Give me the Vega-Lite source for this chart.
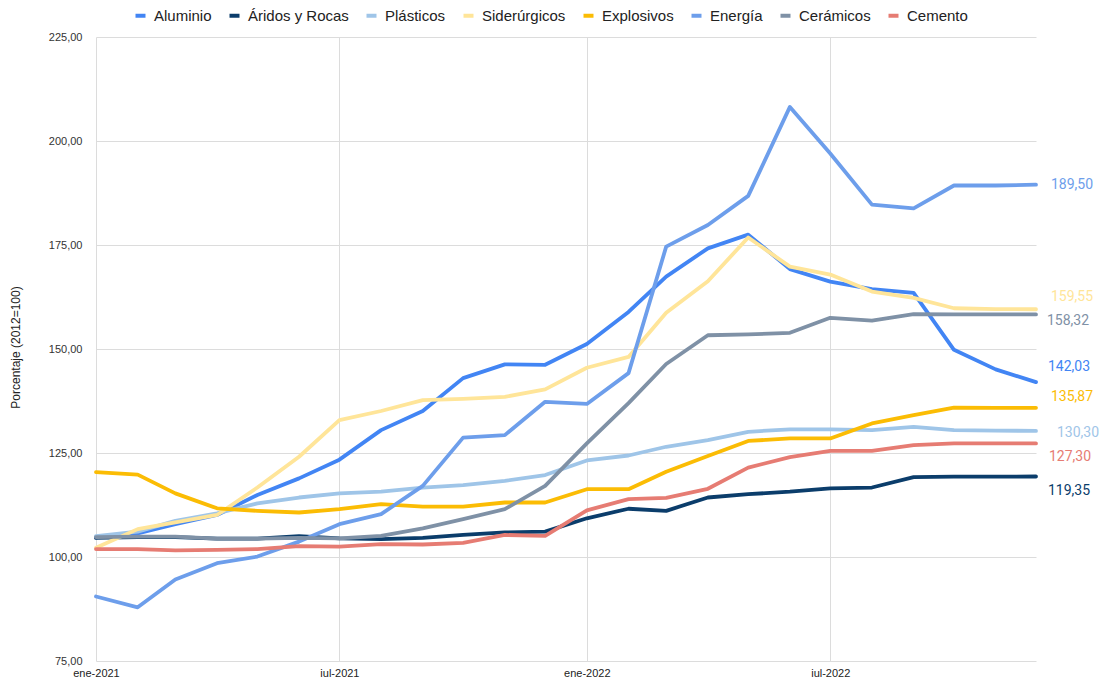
{
  "$schema": "https://vega.github.io/schema/vega-lite/v6.json",
  "width": 940,
  "height": 624,
  "autosize": {"type": "none"},
  "padding": {"left": 96, "top": 37, "right": 69, "bottom": 16},
  "background": "#ffffff",
  "config": {
    "view": {"stroke": null},
    "locale": {"number": {"decimal": ",", "thousands": ".", "grouping": [3], "currency": ["", " €"]}},
    "axis": {"domain": false, "ticks": false, "gridColor": "#dcdcdc", "gridWidth": 1, "labelFont": "Liberation Sans", "labelFontSize": 11, "labelColor": "#333333"},
    "text": {"font": "Roboto", "fontSize": 14, "fontWeight": "normal", "align": "left", "baseline": "middle"}
  },
  "data": {
    "format": {"parse": {"d": "utc:'%Y-%m-%d'"}},
    "values": [
      {"s":"Aluminio","d":"2021-01-01","v":104.7},{"s":"Aluminio","d":"2021-02-01","v":105.7},{"s":"Aluminio","d":"2021-03-01","v":107.9},{"s":"Aluminio","d":"2021-04-01","v":110.1},{"s":"Aluminio","d":"2021-05-01","v":114.9},{"s":"Aluminio","d":"2021-06-01","v":118.9},{"s":"Aluminio","d":"2021-07-01","v":123.4},{"s":"Aluminio","d":"2021-08-01","v":130.5},{"s":"Aluminio","d":"2021-09-01","v":135.1},{"s":"Aluminio","d":"2021-10-01","v":143.0},{"s":"Aluminio","d":"2021-11-01","v":146.3},{"s":"Aluminio","d":"2021-12-01","v":146.2},{"s":"Aluminio","d":"2022-01-01","v":151.2},{"s":"Aluminio","d":"2022-02-01","v":158.9},{"s":"Aluminio","d":"2022-03-01","v":167.4},{"s":"Aluminio","d":"2022-04-01","v":174.2},{"s":"Aluminio","d":"2022-05-01","v":177.5},{"s":"Aluminio","d":"2022-06-01","v":169.2},{"s":"Aluminio","d":"2022-07-01","v":166.2},{"s":"Aluminio","d":"2022-08-01","v":164.4},{"s":"Aluminio","d":"2022-09-01","v":163.5},{"s":"Aluminio","d":"2022-10-01","v":149.8},{"s":"Aluminio","d":"2022-11-01","v":145.1},{"s":"Aluminio","d":"2022-12-01","v":142.03},
      {"s":"Áridos y Rocas","d":"2021-01-01","v":104.6},{"s":"Áridos y Rocas","d":"2021-02-01","v":104.8},{"s":"Áridos y Rocas","d":"2021-03-01","v":104.8},{"s":"Áridos y Rocas","d":"2021-04-01","v":104.4},{"s":"Áridos y Rocas","d":"2021-05-01","v":104.4},{"s":"Áridos y Rocas","d":"2021-06-01","v":105.0},{"s":"Áridos y Rocas","d":"2021-07-01","v":104.5},{"s":"Áridos y Rocas","d":"2021-08-01","v":104.3},{"s":"Áridos y Rocas","d":"2021-09-01","v":104.6},{"s":"Áridos y Rocas","d":"2021-10-01","v":105.3},{"s":"Áridos y Rocas","d":"2021-11-01","v":105.9},{"s":"Áridos y Rocas","d":"2021-12-01","v":106.1},{"s":"Áridos y Rocas","d":"2022-01-01","v":109.3},{"s":"Áridos y Rocas","d":"2022-02-01","v":111.6},{"s":"Áridos y Rocas","d":"2022-03-01","v":111.1},{"s":"Áridos y Rocas","d":"2022-04-01","v":114.3},{"s":"Áridos y Rocas","d":"2022-05-01","v":115.1},{"s":"Áridos y Rocas","d":"2022-06-01","v":115.7},{"s":"Áridos y Rocas","d":"2022-07-01","v":116.5},{"s":"Áridos y Rocas","d":"2022-08-01","v":116.7},{"s":"Áridos y Rocas","d":"2022-09-01","v":119.2},{"s":"Áridos y Rocas","d":"2022-10-01","v":119.3},{"s":"Áridos y Rocas","d":"2022-11-01","v":119.3},{"s":"Áridos y Rocas","d":"2022-12-01","v":119.35},
      {"s":"Plásticos","d":"2021-01-01","v":105.0},{"s":"Plásticos","d":"2021-02-01","v":106.1},{"s":"Plásticos","d":"2021-03-01","v":108.7},{"s":"Plásticos","d":"2021-04-01","v":110.5},{"s":"Plásticos","d":"2021-05-01","v":112.9},{"s":"Plásticos","d":"2021-06-01","v":114.3},{"s":"Plásticos","d":"2021-07-01","v":115.3},{"s":"Plásticos","d":"2021-08-01","v":115.7},{"s":"Plásticos","d":"2021-09-01","v":116.7},{"s":"Plásticos","d":"2021-10-01","v":117.3},{"s":"Plásticos","d":"2021-11-01","v":118.3},{"s":"Plásticos","d":"2021-12-01","v":119.7},{"s":"Plásticos","d":"2022-01-01","v":123.2},{"s":"Plásticos","d":"2022-02-01","v":124.4},{"s":"Plásticos","d":"2022-03-01","v":126.5},{"s":"Plásticos","d":"2022-04-01","v":128.1},{"s":"Plásticos","d":"2022-05-01","v":130.1},{"s":"Plásticos","d":"2022-06-01","v":130.7},{"s":"Plásticos","d":"2022-07-01","v":130.7},{"s":"Plásticos","d":"2022-08-01","v":130.5},{"s":"Plásticos","d":"2022-09-01","v":131.3},{"s":"Plásticos","d":"2022-10-01","v":130.5},{"s":"Plásticos","d":"2022-11-01","v":130.4},{"s":"Plásticos","d":"2022-12-01","v":130.3},
      {"s":"Siderúrgicos","d":"2021-01-01","v":102.2},{"s":"Siderúrgicos","d":"2021-02-01","v":106.7},{"s":"Siderúrgicos","d":"2021-03-01","v":108.3},{"s":"Siderúrgicos","d":"2021-04-01","v":110.1},{"s":"Siderúrgicos","d":"2021-05-01","v":116.7},{"s":"Siderúrgicos","d":"2021-06-01","v":124.1},{"s":"Siderúrgicos","d":"2021-07-01","v":132.9},{"s":"Siderúrgicos","d":"2021-08-01","v":135.1},{"s":"Siderúrgicos","d":"2021-09-01","v":137.7},{"s":"Siderúrgicos","d":"2021-10-01","v":138.0},{"s":"Siderúrgicos","d":"2021-11-01","v":138.5},{"s":"Siderúrgicos","d":"2021-12-01","v":140.3},{"s":"Siderúrgicos","d":"2022-01-01","v":145.5},{"s":"Siderúrgicos","d":"2022-02-01","v":148.1},{"s":"Siderúrgicos","d":"2022-03-01","v":158.7},{"s":"Siderúrgicos","d":"2022-04-01","v":166.3},{"s":"Siderúrgicos","d":"2022-05-01","v":176.8},{"s":"Siderúrgicos","d":"2022-06-01","v":169.8},{"s":"Siderúrgicos","d":"2022-07-01","v":167.9},{"s":"Siderúrgicos","d":"2022-08-01","v":163.8},{"s":"Siderúrgicos","d":"2022-09-01","v":162.3},{"s":"Siderúrgicos","d":"2022-10-01","v":159.8},{"s":"Siderúrgicos","d":"2022-11-01","v":159.6},{"s":"Siderúrgicos","d":"2022-12-01","v":159.55},
      {"s":"Explosivos","d":"2021-01-01","v":120.4},{"s":"Explosivos","d":"2021-02-01","v":119.8},{"s":"Explosivos","d":"2021-03-01","v":115.3},{"s":"Explosivos","d":"2021-04-01","v":111.7},{"s":"Explosivos","d":"2021-05-01","v":111.1},{"s":"Explosivos","d":"2021-06-01","v":110.7},{"s":"Explosivos","d":"2021-07-01","v":111.5},{"s":"Explosivos","d":"2021-08-01","v":112.7},{"s":"Explosivos","d":"2021-09-01","v":112.1},{"s":"Explosivos","d":"2021-10-01","v":112.1},{"s":"Explosivos","d":"2021-11-01","v":113.1},{"s":"Explosivos","d":"2021-12-01","v":113.1},{"s":"Explosivos","d":"2022-01-01","v":116.3},{"s":"Explosivos","d":"2022-02-01","v":116.3},{"s":"Explosivos","d":"2022-03-01","v":120.5},{"s":"Explosivos","d":"2022-04-01","v":124.3},{"s":"Explosivos","d":"2022-05-01","v":127.9},{"s":"Explosivos","d":"2022-06-01","v":128.5},{"s":"Explosivos","d":"2022-07-01","v":128.5},{"s":"Explosivos","d":"2022-08-01","v":132.1},{"s":"Explosivos","d":"2022-09-01","v":134.1},{"s":"Explosivos","d":"2022-10-01","v":135.9},{"s":"Explosivos","d":"2022-11-01","v":135.87},{"s":"Explosivos","d":"2022-12-01","v":135.87},
      {"s":"Energía","d":"2021-01-01","v":90.5},{"s":"Energía","d":"2021-02-01","v":87.9},{"s":"Energía","d":"2021-03-01","v":94.6},{"s":"Energía","d":"2021-04-01","v":98.5},{"s":"Energía","d":"2021-05-01","v":100.1},{"s":"Energía","d":"2021-06-01","v":103.7},{"s":"Energía","d":"2021-07-01","v":107.9},{"s":"Energía","d":"2021-08-01","v":110.3},{"s":"Energía","d":"2021-09-01","v":117.1},{"s":"Energía","d":"2021-10-01","v":128.7},{"s":"Energía","d":"2021-11-01","v":129.3},{"s":"Energía","d":"2021-12-01","v":137.3},{"s":"Energía","d":"2022-01-01","v":136.8},{"s":"Energía","d":"2022-02-01","v":144.2},{"s":"Energía","d":"2022-03-01","v":174.6},{"s":"Energía","d":"2022-04-01","v":179.8},{"s":"Energía","d":"2022-05-01","v":186.8},{"s":"Energía","d":"2022-06-01","v":208.2},{"s":"Energía","d":"2022-07-01","v":197.0},{"s":"Energía","d":"2022-08-01","v":184.7},{"s":"Energía","d":"2022-09-01","v":183.8},{"s":"Energía","d":"2022-10-01","v":189.3},{"s":"Energía","d":"2022-11-01","v":189.3},{"s":"Energía","d":"2022-12-01","v":189.5},
      {"s":"Cerámicos","d":"2021-01-01","v":104.8},{"s":"Cerámicos","d":"2021-02-01","v":104.9},{"s":"Cerámicos","d":"2021-03-01","v":104.9},{"s":"Cerámicos","d":"2021-04-01","v":104.4},{"s":"Cerámicos","d":"2021-05-01","v":104.4},{"s":"Cerámicos","d":"2021-06-01","v":104.6},{"s":"Cerámicos","d":"2021-07-01","v":104.5},{"s":"Cerámicos","d":"2021-08-01","v":105.1},{"s":"Cerámicos","d":"2021-09-01","v":106.9},{"s":"Cerámicos","d":"2021-10-01","v":109.1},{"s":"Cerámicos","d":"2021-11-01","v":111.5},{"s":"Cerámicos","d":"2021-12-01","v":117.1},{"s":"Cerámicos","d":"2022-01-01","v":127.3},{"s":"Cerámicos","d":"2022-02-01","v":137.0},{"s":"Cerámicos","d":"2022-03-01","v":146.4},{"s":"Cerámicos","d":"2022-04-01","v":153.3},{"s":"Cerámicos","d":"2022-05-01","v":153.5},{"s":"Cerámicos","d":"2022-06-01","v":153.9},{"s":"Cerámicos","d":"2022-07-01","v":157.5},{"s":"Cerámicos","d":"2022-08-01","v":156.8},{"s":"Cerámicos","d":"2022-09-01","v":158.4},{"s":"Cerámicos","d":"2022-10-01","v":158.3},{"s":"Cerámicos","d":"2022-11-01","v":158.32},{"s":"Cerámicos","d":"2022-12-01","v":158.32},
      {"s":"Cemento","d":"2021-01-01","v":101.9},{"s":"Cemento","d":"2021-02-01","v":101.9},{"s":"Cemento","d":"2021-03-01","v":101.6},{"s":"Cemento","d":"2021-04-01","v":101.7},{"s":"Cemento","d":"2021-05-01","v":101.9},{"s":"Cemento","d":"2021-06-01","v":102.6},{"s":"Cemento","d":"2021-07-01","v":102.5},{"s":"Cemento","d":"2021-08-01","v":103.1},{"s":"Cemento","d":"2021-09-01","v":103.0},{"s":"Cemento","d":"2021-10-01","v":103.4},{"s":"Cemento","d":"2021-11-01","v":105.3},{"s":"Cemento","d":"2021-12-01","v":105.1},{"s":"Cemento","d":"2022-01-01","v":111.2},{"s":"Cemento","d":"2022-02-01","v":113.9},{"s":"Cemento","d":"2022-03-01","v":114.2},{"s":"Cemento","d":"2022-04-01","v":116.4},{"s":"Cemento","d":"2022-05-01","v":121.5},{"s":"Cemento","d":"2022-06-01","v":124.0},{"s":"Cemento","d":"2022-07-01","v":125.5},{"s":"Cemento","d":"2022-08-01","v":125.5},{"s":"Cemento","d":"2022-09-01","v":126.9},{"s":"Cemento","d":"2022-10-01","v":127.3},{"s":"Cemento","d":"2022-11-01","v":127.3},{"s":"Cemento","d":"2022-12-01","v":127.3}
    ]
  },
  "encoding": {
    "x": {
      "field": "d", "type": "temporal",
      "scale": {"type": "utc", "domain": [{"year": 2021, "month": 1, "date": 1, "utc": true}, {"year": 2022, "month": 12, "date": 1, "utc": true}]},
      "axis": {
        "title": null,
        "values": [{"year": 2021, "month": 1, "date": 1, "utc": true}, {"year": 2021, "month": 7, "date": 1, "utc": true}, {"year": 2022, "month": 1, "date": 1, "utc": true}, {"year": 2022, "month": 7, "date": 1, "utc": true}],
        "labelExpr": "(utcmonth(datum.value) == 0 ? 'ene' : 'jul') + '-' + utcyear(datum.value)",
        "labelPadding": 6,
        "labelAlign": "center",
        "labelColor": "#222222"
      }
    },
    "y": {
      "field": "v", "type": "quantitative",
      "scale": {"domain": [75, 225], "zero": false, "nice": false},
      "axis": {
        "values": [75, 100, 125, 150, 175, 200, 225],
        "format": ".2f",
        "labelPadding": 14,
        "title": "Porcentaje (2012=100)",
        "titleFont": "Liberation Sans",
        "titleFontSize": 12,
        "titleFontWeight": "normal",
        "titleColor": "#222222",
        "titleX": -81,
        "titleY": 310,
        "titleAngle": -90,
        "titleAlign": "center",
        "titleBaseline": "middle"
      }
    },
    "color": {
      "field": "s", "type": "nominal",
      "scale": {
        "domain": ["Aluminio", "Áridos y Rocas", "Plásticos", "Siderúrgicos", "Explosivos", "Energía", "Cerámicos", "Cemento"],
        "range": ["#4285F4", "#0B3D6B", "#9FC5E8", "#FFE599", "#FBBC04", "#6D9EEB", "#7F91A6", "#E67C73"]
      }
    }
  },
  "layer": [
    {
      "mark": {"type": "line", "strokeWidth": 3.8, "strokeJoin": "round", "strokeCap": "round"},
      "encoding": {
        "color": {
          "field": "s", "type": "nominal",
          "legend": {
            "title": null, "orient": "none", "legendX": 37, "legendY": -29, "direction": "horizontal", "columns": 8,
            "symbolType": "stroke", "symbolSize": 100, "symbolStrokeWidth": 4,
            "labelFont": "Liberation Sans", "labelFontSize": 15, "labelColor": "#222222",
            "labelOffset": 6, "columnPadding": 9, "padding": 0
          }
        }
      }
    },
    {"transform": [{"filter": "datum.s == 'Energía' && utcyear(datum.d) == 2022 && utcmonth(datum.d) == 11"}],
     "mark": {"type": "text", "dx": 15, "dy": 0},
     "encoding": {"text": {"field": "v", "type": "quantitative", "format": ".2f"}, "color": {"field": "s", "type": "nominal", "legend": null}}},
    {"transform": [{"filter": "datum.s == 'Siderúrgicos' && utcyear(datum.d) == 2022 && utcmonth(datum.d) == 11"}],
     "mark": {"type": "text", "dx": 15, "dy": -12},
     "encoding": {"text": {"field": "v", "type": "quantitative", "format": ".2f"}, "color": {"field": "s", "type": "nominal", "legend": null}}},
    {"transform": [{"filter": "datum.s == 'Cerámicos' && utcyear(datum.d) == 2022 && utcmonth(datum.d) == 11"}],
     "mark": {"type": "text", "dx": 11, "dy": 7},
     "encoding": {"text": {"field": "v", "type": "quantitative", "format": ".2f"}, "color": {"field": "s", "type": "nominal", "legend": null}}},
    {"transform": [{"filter": "datum.s == 'Aluminio' && utcyear(datum.d) == 2022 && utcmonth(datum.d) == 11"}],
     "mark": {"type": "text", "dx": 12, "dy": -15},
     "encoding": {"text": {"field": "v", "type": "quantitative", "format": ".2f"}, "color": {"field": "s", "type": "nominal", "legend": null}}},
    {"transform": [{"filter": "datum.s == 'Explosivos' && utcyear(datum.d) == 2022 && utcmonth(datum.d) == 11"}],
     "mark": {"type": "text", "dx": 15, "dy": -11},
     "encoding": {"text": {"field": "v", "type": "quantitative", "format": ".2f"}, "color": {"field": "s", "type": "nominal", "legend": null}}},
    {"transform": [{"filter": "datum.s == 'Plásticos' && utcyear(datum.d) == 2022 && utcmonth(datum.d) == 11"}],
     "mark": {"type": "text", "dx": 21, "dy": 2},
     "encoding": {"text": {"field": "v", "type": "quantitative", "format": ".2f"}, "color": {"field": "s", "type": "nominal", "legend": null}}},
    {"transform": [{"filter": "datum.s == 'Cemento' && utcyear(datum.d) == 2022 && utcmonth(datum.d) == 11"}],
     "mark": {"type": "text", "dx": 13, "dy": 14},
     "encoding": {"text": {"field": "v", "type": "quantitative", "format": ".2f"}, "color": {"field": "s", "type": "nominal", "legend": null}}},
    {"transform": [{"filter": "datum.s == 'Áridos y Rocas' && utcyear(datum.d) == 2022 && utcmonth(datum.d) == 11"}],
     "mark": {"type": "text", "dx": 12, "dy": 14},
     "encoding": {"text": {"field": "v", "type": "quantitative", "format": ".2f"}, "color": {"field": "s", "type": "nominal", "legend": null}}}
  ]
}
